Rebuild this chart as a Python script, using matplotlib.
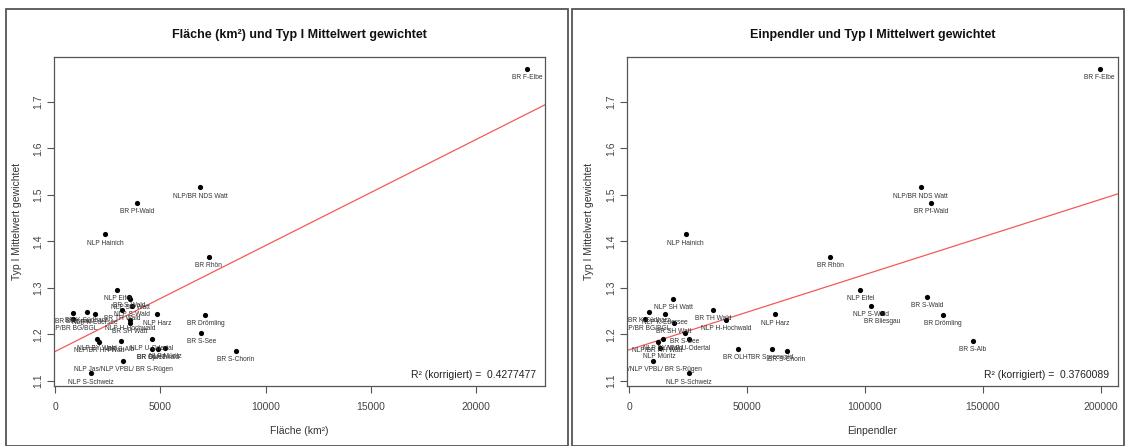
import numpy as np
import matplotlib
matplotlib.use("Agg")
import matplotlib.pyplot as plt
from matplotlib.patches import Rectangle
from matplotlib.transforms import offset_copy

plt.rcParams['font.family'] = ['Liberation Sans', 'DejaVu Sans']

# Schutzgebiete: Fläche, Einpendler, Typ I Mittelwert gewichtet
names = ["BR F-Elbe", "NLP/BR NDS Watt", "BR Pf-Wald", "NLP Hainich", "BR Rhön",
         "NLP Eifel", "BR S-Wald", "NLP SH Watt", "NLP S-Wald", "BR TH Wald",
         "BR K-Südharz", "BR Bliesgau", "NLP K-Edersee", "NLP Harz", "BR Drömling",
         "NLP/BR BG/BGL", "NLP H-Hochwald", "BR SH Watt", "BR S-See", "NLP U-Odertal",
         "BR S-Alb", "NLP BY Wald", "NLP/BR HH Watt", "BR OLHT", "BR Spreewald",
         "NLP Müritz", "BR S-Chorin", "NLP Jas/NLP VPBL/ BR S-Rügen", "NLP S-Schweiz"]
flaeche = [22410, 6880, 3900, 2380, 7300,
           2950, 3500, 3560, 3660, 3180,
           1490, 860, 1890, 4850, 7140,
           830, 3550, 3550, 6940, 4580,
           3110, 1970, 2080, 4580, 4890,
           5210, 8590, 3230, 1680]
einpendler = [199600, 123600, 128000, 23850, 85200,
              98100, 126400, 18580, 102600, 35600,
              8540, 107200, 15050, 61960, 133000,
              6840, 41130, 18740, 23560, 25120,
              145700, 14200, 11950, 45950, 60540,
              12920, 66790, 9950, 25380]
typ1 = [1.771, 1.516, 1.482, 1.415, 1.367,
        1.296, 1.281, 1.2765, 1.2605, 1.252,
        1.2476, 1.2454, 1.244, 1.2425, 1.2415,
        1.2318, 1.231, 1.2246, 1.203, 1.1886,
        1.1864, 1.1886, 1.1828, 1.1677, 1.1677,
        1.1713, 1.164, 1.143, 1.1158]

panels = [
    ("Fläche (km²) und Typ I Mittelwert gewichtet", "Fläche (km²)", flaeche,
     [0, 5000, 10000, 15000, 20000], "R² (korrigiert) =  0.4277477"),
    ("Einpendler und Typ I Mittelwert gewichtet", "Einpendler", einpendler,
     [0, 50000, 100000, 150000, 200000], "R² (korrigiert) =  0.3760089"),
]
y_ticks = [1.1, 1.2, 1.3, 1.4, 1.5, 1.6, 1.7]

W, H = 1129, 446
fig = plt.figure(figsize=(W / 100, H / 100), dpi=100)

# frames around the two exported R plots
fig.add_artist(Rectangle((5.5 / W, 0), (568 - 5.5) / W, (H - 9) / H, transform=fig.transFigure,
                         fill=False, ec="#555555", lw=1.3))
fig.add_artist(Rectangle((572 / W, 0), (1124 - 572) / W, (H - 9) / H, transform=fig.transFigure,
                         fill=False, ec="#555555", lw=1.3))

ax_lefts = [54.5, 627.3]
y_arr = np.array(typ1)
for (title, xlabel, xs, xt, r2), left in zip(panels, ax_lefts):
    ax = fig.add_axes([left / W, (H - 385.5) / H, 490.5 / W, 328.8 / H])
    x_arr = np.array(xs, dtype=float)

    ax.scatter(x_arr, y_arr, s=14, color="black", zorder=3, linewidths=0)
    lab_tr = offset_copy(ax.transData, fig=fig, x=0, y=-6.3, units="points")
    for n, xv, yv in zip(names, x_arr, y_arr):
        ax.text(xv, yv, n, transform=lab_tr, ha="center", va="center",
                fontsize=4.8, color="#333333", clip_on=True)

    slope, icpt = np.polyfit(x_arr, y_arr, 1)
    ax.axline((0, icpt), slope=slope, color="#f25a5a", lw=0.9, zorder=2)

    rx = x_arr.max() - x_arr.min()
    ry = y_arr.max() - y_arr.min()
    ax.set_xlim(x_arr.min() - 0.04 * rx, x_arr.max() + 0.04 * rx)
    ax.set_ylim(y_arr.min() - 0.04 * ry, y_arr.max() + 0.04 * ry)

    ax.set_xticks(xt)
    ax.set_xticklabels([str(v) for v in xt])
    ax.set_yticks(y_ticks)
    ax.set_yticklabels([str(v) for v in y_ticks], rotation=90, va="center")
    ax.tick_params(length=5, width=0.8, color="#555555", labelsize=7.5,
                   labelcolor="#444444")
    ax.tick_params(axis="x", pad=7)
    ax.tick_params(axis="y", pad=3)
    for sp in ax.spines.values():
        sp.set_color("#555555")
        sp.set_linewidth(0.9)

    ax.set_title(title, fontsize=9, fontweight="bold", color="#111111", pad=13.5)
    ax.set_xlabel(xlabel, fontsize=7.5, color="#333333", labelpad=10)
    ax.set_ylabel("Typ I Mittelwert gewichtet", fontsize=7.5, color="#333333", labelpad=8.5)
    ax.text(0.982, 0.033, r2, transform=ax.transAxes, ha="right", va="center",
            fontsize=7.5, color="#222222")

fig.savefig("out.png", dpi=100)
